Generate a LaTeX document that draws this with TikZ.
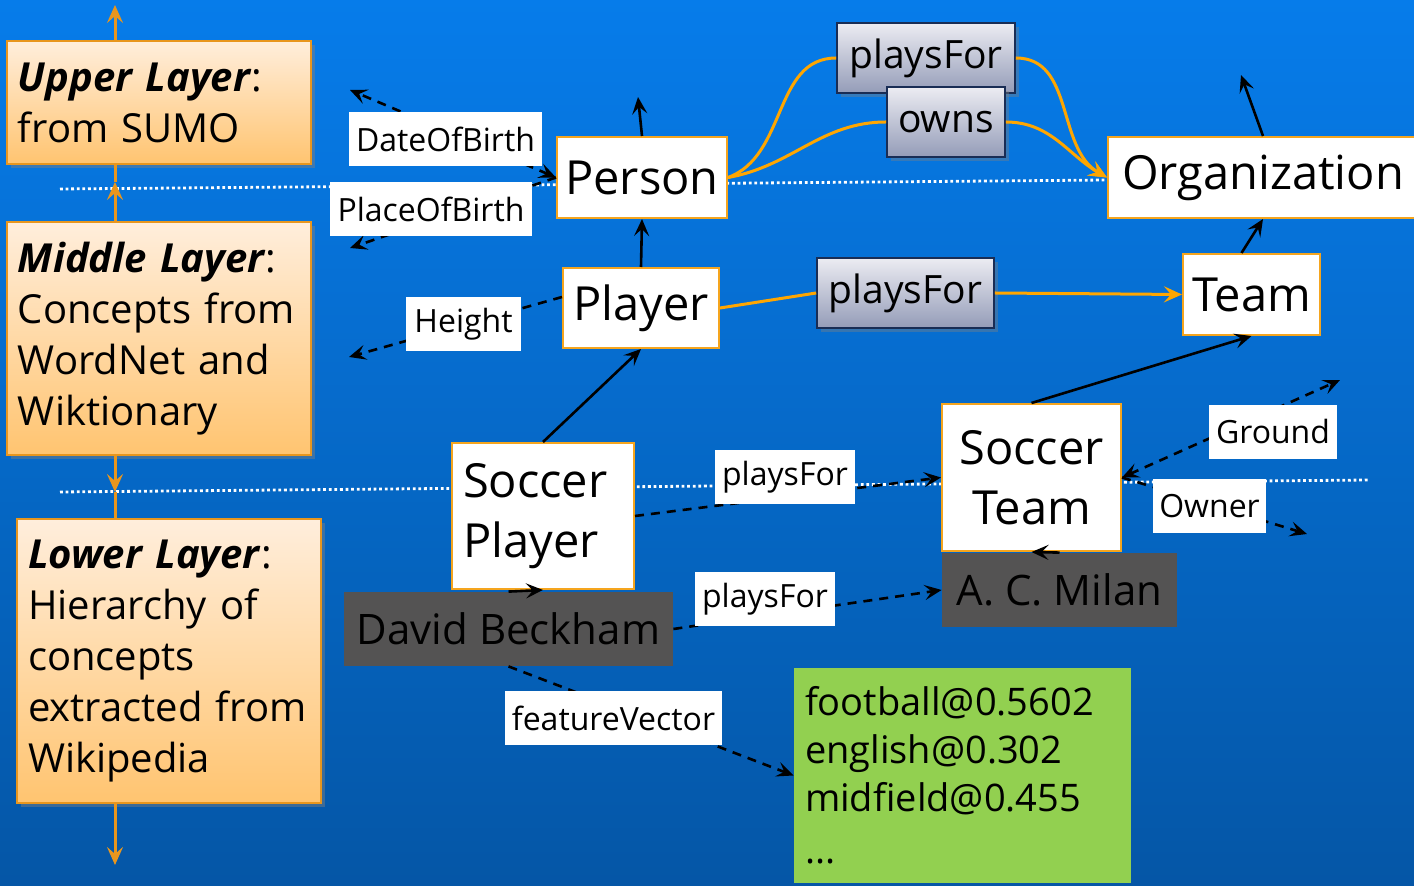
\documentclass[tikz,border=0pt]{standalone}
\usepackage{fontspec}
\setmainfont{Open Sans}
\usetikzlibrary{arrows.meta,shadows}

\definecolor{bgtop}{RGB}{6,124,234}
\definecolor{bgbottom}{RGB}{5,86,166}
\definecolor{layertop}{RGB}{255,238,220}
\definecolor{layerbottom}{RGB}{255,196,112}
\definecolor{layeredge}{RGB}{232,150,30}
\definecolor{conceptedge}{RGB}{245,165,30}
\definecolor{relorange}{RGB}{255,166,0}
\definecolor{reltop}{RGB}{236,236,242}
\definecolor{relbottom}{RGB}{148,156,184}
\definecolor{reledge}{RGB}{25,45,85}
\definecolor{instgray}{RGB}{84,83,83}
\definecolor{vecgreen}{RGB}{146,208,80}

\tikzset{
  layerbox/.style={draw=layeredge, line width=1pt, top color=layertop,
    bottom color=layerbottom, align=left, text width=141pt, inner xsep=5.5pt,
    inner ysep=0pt, font=\fontsize{20}{25.5}\selectfont,
    drop shadow={opacity=0.45, shadow xshift=2pt, shadow yshift=-2pt}},
  concept/.style={draw=conceptedge, line width=1pt, fill=white, inner sep=0pt,
    font=\fontsize{23.5}{30}\selectfont},
  instance/.style={fill=instgray, inner sep=0pt, font=\fontsize{21}{26}\selectfont},
  relbox/.style={draw=reledge, line width=0.8pt, top color=reltop,
    bottom color=relbottom, inner sep=0pt, minimum height=35pt,
    font=\fontsize{19.5}{24}\selectfont,
    drop shadow={opacity=0.4, shadow xshift=2pt, shadow yshift=-2pt}},
  proplabel/.style={fill=white, inner sep=0pt, minimum height=27pt,
    font=\fontsize{16}{20}\selectfont},
  tip/.style={Stealth[length=8.5pt, width=7.5pt, inset=3.5pt]},
  isa/.style={black, line width=1.3pt, -{Stealth[length=8.5pt, width=7.5pt, inset=3.5pt]}},
  prop/.style={isa, dash pattern=on 4.5pt off 3.5pt},
  propboth/.style={prop, {Stealth[length=8.5pt, width=7.5pt, inset=3.5pt]}-{Stealth[length=8.5pt, width=7.5pt, inset=3.5pt]}},
  relline/.style={relorange, line width=1.5pt},
  relarrow/.style={relline, -{Stealth[length=9pt, width=8pt, inset=3.5pt]}},
  layersep/.style={white, line width=1.4pt, dash pattern=on 1.4pt off 1.4pt},
  layerline/.style={layeredge, line width=1.5pt},
  layerarrow/.style={layerline, -{Stealth[length=9pt, width=8pt, inset=3.5pt]}}
}

\begin{document}
\begin{tikzpicture}[x=0.5pt,y=-0.5pt]
        % Background
        \useasboundingbox (0,0) rectangle (1414,886);
        \shade[top color=bgtop, bottom color=bgbottom] (0,0) rectangle (1414,886);

        % Dotted borders between the layers
        \coordinate (sepAl) at (60,189);
        \coordinate (sepAr) at (1108,180);
        \coordinate (sepBl) at (60,492);
        \coordinate (sepBr) at (1368,480);
        \draw[layersep] (sepAl) -- (sepAr);
        \draw[layersep] (sepBl) -- (sepBr);

        % Layer boxes on the left
        \node[layerbox, minimum height=61.5pt] (upper) at (159,102.5)
            {\textbf{\textit{Upper Layer}}:\\from SUMO};
        \node[layerbox, minimum height=116.5pt] (middle) at (159,338.5)
            {\textbf{\textit{Middle Layer}}:\\Concepts from\\WordNet and\\Wiktionary};
        \node[layerbox, minimum height=142pt] (lower) at (169,661)
            {\textbf{\textit{Lower Layer}}:\\Hierarchy of\\concepts\\extracted from\\Wikipedia};

        % Arrows along the layers
        \coordinate (topend) at (115,5);
        \coordinate (uptip) at (115,182);
        \coordinate (downtip) at (115,492);
        \coordinate (bottomend) at (115,865);
        \draw[layerarrow] ([xshift=-22pt]upper.north) -- (topend);
        \draw[layerline] ([xshift=-22pt]upper.south) -- (uptip);
        \draw[layerarrow] ([xshift=-22pt]middle.north) -- (uptip);
        \draw[layerarrow] ([xshift=-22pt]middle.south) -- (downtip);
        \draw[layerline] (downtip) -- ([xshift=-27pt]lower.north);
        \draw[layerarrow] ([xshift=-27pt]lower.south) -- (bottomend);

        % Concepts
        \node[concept, minimum width=85pt, minimum height=40.5pt] (person) at (642,177.5) {Person};
        \node[concept, minimum width=155pt, minimum height=40.5pt] (org) at (1263,177.5) {Organization};
        \node[concept, minimum width=78pt, minimum height=40pt] (player) at (641,308) {Player};
        \node[concept, minimum width=68.5pt, minimum height=40.5pt] (team) at (1251.5,294.5) {Team};
        \node[concept, align=left, text width=80pt, inner xsep=5.5pt, minimum height=73pt]
            (splayer) at (543,516) {Soccer\\Player};
        \node[concept, align=center, minimum width=89.5pt, minimum height=73.5pt]
            (steam) at (1031.5,477.5) {Soccer\\Team};

        % Relations
        \node[relbox, minimum width=89pt] (rplaysA) at (926,58) {playsFor};
        \node[relbox, minimum width=59pt] (rowns) at (946,122) {owns};
        \node[relbox, minimum width=88.5pt] (rplaysB) at (905.5,293) {playsFor};

        % Instances
        \node[instance, minimum width=164.5pt, minimum height=37pt] (beckham) at (508.5,629) {David Beckham};
        \node[instance, minimum width=117.5pt, minimum height=37pt] (milan) at (1059.5,590) {A. C. Milan};
        \node[fill=vecgreen, align=left, text width=157.5pt, inner xsep=5.5pt, inner ysep=0pt,
            minimum height=107.5pt, font=\fontsize{19}{24}\selectfont]
            (vector) at (962.5,775.5) {football@0.5602\\english@0.302\\midfield@0.455\\[2pt]...};

        % Relations between concepts
        \draw[relline] (person.east) to[out=20, in=180] (rplaysA.west);
        \draw[relarrow] (rplaysA.east) to[out=0, in=150] (org.west);
        \draw[relline] (person.east) to[out=10, in=180] (rowns.west);
        \draw[relarrow] (rowns.east) to[out=0, in=150] (org.west);
        \draw[relline] (player.east) -- (rplaysB.west);
        \draw[relarrow] (rplaysB.east) -- (team.west);

        % Hierarchy
        \coordinate (personup) at (638,97);
        \coordinate (orgup) at (1241,75);
        \draw[isa] (person.north) -- (personup);
        \draw[isa] (org.north) -- (orgup);
        \draw[isa] (player.north) -- (person.south);
        \draw[isa] ([xshift=-5pt]team.north) -- (org.south);
        \draw[isa] (splayer.north) -- (player.south);
        \draw[isa] (steam.north) -- (team.south);
        \draw[isa] (beckham.north) -- (splayer.south);
        \draw[isa] (milan.north) -- (steam.south);

        % Properties
        \coordinate (dateend) at (350,90);
        \coordinate (placeend) at (350,248);
        \coordinate (heightend) at (349,357);
        \coordinate (groundend) at (1340,380);
        \coordinate (ownerend) at (1307,534);
        \draw[propboth] (person.west) -- (dateend);
        \draw[prop] (person.west) -- (placeend);
        \draw[prop] ([yshift=5.5pt]player.west) -- (heightend);
        \draw[propboth] (steam.east) -- (groundend);
        \draw[prop] (steam.east) -- (ownerend);
        \draw[prop] (splayer.east) -- (steam.west);
        \draw[prop] (beckham.east) -- (milan.west);
        \draw[prop] (beckham.south) -- (vector.west);

        % Property labels
        \node[proplabel, minimum width=96.5pt] (ldate) at (445.5,139) {DateOfBirth};
        \node[proplabel, minimum width=101pt] (lplace) at (431,209.5) {PlaceOfBirth};
        \node[proplabel, minimum width=57.5pt] (lheight) at (463.5,324.5) {Height};
        \node[proplabel, minimum width=70pt] (lplaysA) at (785,477.5) {playsFor};
        \node[proplabel, minimum width=70pt] (lplaysB) at (765,599) {playsFor};
        \node[proplabel, minimum width=108.5pt] (lfeature) at (613.5,718) {featureVector};
        \node[proplabel, minimum width=64pt] (lground) at (1273,432) {Ground};
        \node[proplabel, minimum width=56.5pt] (lowner) at (1209.5,506.5) {Owner};
\end{tikzpicture}
\end{document}
